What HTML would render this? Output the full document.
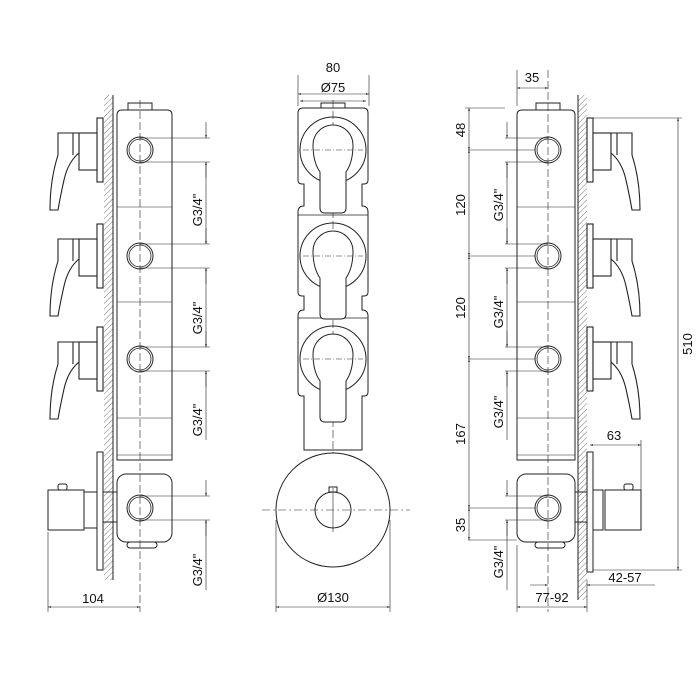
<!DOCTYPE html>
<html><head><meta charset="utf-8"><style>
html,body{margin:0;padding:0;background:#fff}
svg{display:block}
text{font-family:"Liberation Sans",sans-serif;font-size:13px;fill:#111}
</style></head><body>
<svg width="700" height="700" viewBox="0 0 700 700" xmlns="http://www.w3.org/2000/svg">
<defs>
<pattern id="h" width="4" height="4" patternUnits="userSpaceOnUse" patternTransform="rotate(45)">
<line x1="0" y1="0" x2="0" y2="4" stroke="#555" stroke-width="0.8"/>
</pattern>
<marker id="a" viewBox="0 0 10 10" refX="10" refY="5" markerWidth="7" markerHeight="5" orient="auto-start-reverse"><path d="M0,2 L10,5 L0,8 z" fill="#222"/></marker>
<g id="handle" fill="#fff" stroke="#222" stroke-width="1.1">
<rect x="97" y="-32" width="6" height="64"/>
<rect x="79" y="-17" width="18" height="37"/>
<path d="M58,-17 L79,-17 L79,3 Q68,12 64,30 Q60,48 58,60 L50,60 Q50,30 58,5 Z"/>
<line x1="73" y1="-17" x2="73" y2="5"/>
</g>
<g id="port" fill="none" stroke="#222">
<circle r="13"/><circle r="11" stroke-width="0.8"/>
</g>
<g id="mod" fill="none" stroke="#222" stroke-width="1">
<circle r="33"/>
<path d="M-13,58 L-13,22 Q-20,12 -20,-5 A20,20 0 0 1 20,-5 Q20,12 13,22 L13,58 Q13,63 8,63 L-8,63 Q-13,63 -13,58 Z" fill="#fff"/>
<line x1="-30" y1="0" x2="30" y2="0" stroke-dasharray="6,2,1,2" stroke-width="0.6"/>
</g>
</defs>
<g stroke="#222" fill="none" stroke-width="1">
<!-- LEFT VIEW -->
<rect x="104" y="95" width="9" height="485" fill="url(#h)" stroke="none"/>
<line x1="113" y1="95" x2="113" y2="580"/>
<rect x="128" y="103" width="24" height="7" fill="#fff"/>
<path d="M117,115 Q117,110 122,110 L167,110 Q172,110 172,115 L172,460 L117,460 Z" fill="#fff"/>
<line x1="117" y1="207" x2="172" y2="207" stroke-width="0.6"/>
<line x1="117" y1="302" x2="172" y2="302" stroke-width="0.6"/>
<line x1="117" y1="418" x2="172" y2="418" stroke-width="0.6"/>
<line x1="117" y1="455" x2="172" y2="455" stroke-width="0.6"/>
<rect x="117" y="474" width="55" height="68" rx="9" fill="#fff"/>
<rect x="127" y="542" width="30" height="6" rx="3"/>
<line x1="140" y1="100" x2="140" y2="612" stroke-dasharray="8,3" stroke-width="0.6"/>
<use href="#handle" y="150"/><use href="#handle" y="256"/><use href="#handle" y="359"/>
<rect x="97" y="452" width="6" height="118" fill="#fff"/>
<rect x="103" y="492" width="14" height="30"/>
<rect x="48" y="490" width="36" height="40" fill="#fff"/>
<line x1="84" y1="490" x2="84" y2="530"/>
<rect x="84" y="492" width="13" height="36"/>
<rect x="58" y="484" width="9" height="6" rx="2"/>
<use href="#port" x="140" y="150"/><use href="#port" x="140" y="256"/><use href="#port" x="140" y="359"/><use href="#port" x="140" y="508"/>
<g stroke-width="0.6">
<line x1="140" y1="138" x2="210" y2="138"/><line x1="140" y1="162" x2="210" y2="162"/>
<line x1="140" y1="244" x2="210" y2="244"/><line x1="140" y1="268" x2="210" y2="268"/>
<line x1="140" y1="347" x2="210" y2="347"/><line x1="140" y1="371" x2="210" y2="371"/>
<line x1="140" y1="496" x2="210" y2="496"/><line x1="140" y1="520" x2="210" y2="520"/>
<line x1="206" y1="122" x2="206" y2="138" marker-end="url(#a)"/><line x1="206" y1="178" x2="206" y2="162" marker-end="url(#a)"/>
<line x1="206" y1="162" x2="206" y2="244"/>
<line x1="206" y1="228" x2="206" y2="244" marker-end="url(#a)"/><line x1="206" y1="284" x2="206" y2="268" marker-end="url(#a)"/>
<line x1="206" y1="268" x2="206" y2="347"/>
<line x1="206" y1="331" x2="206" y2="347" marker-end="url(#a)"/><line x1="206" y1="387" x2="206" y2="371" marker-end="url(#a)"/>
<line x1="206" y1="371" x2="206" y2="440"/>
<line x1="206" y1="480" x2="206" y2="496" marker-end="url(#a)"/><line x1="206" y1="536" x2="206" y2="520" marker-end="url(#a)"/>
<line x1="206" y1="520" x2="206" y2="590"/>
<line x1="48" y1="532" x2="48" y2="612"/>
<line x1="48" y1="607" x2="140" y2="607" marker-start="url(#a)" marker-end="url(#a)"/>
</g>
<!-- MIDDLE VIEW -->
<path d="M298,113 Q298,108 303,108 L363,108 Q368,108 368,113 L368,180 Q368,184 364,184 L362,184 L362,206 Q368,206 368,212 L368,292 Q368,296 364,296 L362,296 L362,310 Q368,310 368,316 L368,392 Q368,396 364,396 L362,396 L362,450 L304,450 L304,396 L302,396 Q298,396 298,392 L298,316 Q298,310 304,310 L304,296 L302,296 Q298,296 298,292 L298,212 Q298,206 304,206 L304,184 L302,184 Q298,184 298,180 Z" fill="#fff"/>
<line x1="298" y1="215" x2="368" y2="215" stroke-width="0.8"/>
<line x1="298" y1="318" x2="368" y2="318" stroke-width="0.8"/>
<rect x="321" y="103" width="24" height="5" fill="#fff"/>
<line x1="333" y1="100" x2="333" y2="560" stroke-dasharray="8,3" stroke-width="0.6"/>
<use href="#mod" x="333" y="150"/><use href="#mod" x="333" y="256"/><use href="#mod" x="333" y="359"/>
<circle cx="333" cy="510" r="57" fill="#fff"/>
<circle cx="333" cy="510" r="18"/>
<rect x="329" y="487" width="8" height="5"/>
<line x1="262" y1="510" x2="410" y2="510" stroke-dasharray="8,3,2,3" stroke-width="0.6"/>
<line x1="333" y1="488" x2="333" y2="532" stroke-width="0.6"/>
<g stroke-width="0.6">
<line x1="298" y1="75" x2="298" y2="106"/><line x1="369" y1="75" x2="369" y2="106"/>
<line x1="298" y1="94" x2="369" y2="94" marker-start="url(#a)" marker-end="url(#a)"/>
<line x1="300" y1="101" x2="366" y2="101" marker-start="url(#a)" marker-end="url(#a)"/>
<line x1="276" y1="520" x2="276" y2="612"/><line x1="390" y1="520" x2="390" y2="612"/>
<line x1="276" y1="607" x2="390" y2="607" marker-start="url(#a)" marker-end="url(#a)"/>
</g>
<!-- RIGHT VIEW -->
<rect x="578" y="95" width="9" height="505" fill="url(#h)" stroke="none"/>
<line x1="578" y1="95" x2="578" y2="600"/>
<rect x="536" y="103" width="24" height="7" fill="#fff"/>
<path d="M517,115 Q517,110 522,110 L570,110 Q575,110 575,115 L575,460 L517,460 Z" fill="#fff"/>
<line x1="517" y1="207" x2="575" y2="207" stroke-width="0.6"/>
<line x1="517" y1="302" x2="575" y2="302" stroke-width="0.6"/>
<line x1="517" y1="418" x2="575" y2="418" stroke-width="0.6"/>
<line x1="517" y1="455" x2="575" y2="455" stroke-width="0.6"/>
<rect x="517" y="474" width="58" height="68" rx="9" fill="#fff"/>
<rect x="535" y="542" width="30" height="6" rx="3"/>
<line x1="548" y1="70" x2="548" y2="612" stroke-dasharray="8,3" stroke-width="0.6"/>
<g transform="translate(690,0) scale(-1,1)"><use href="#handle" y="150"/><use href="#handle" y="256"/><use href="#handle" y="359"/></g>
<rect x="587" y="452" width="6" height="120" fill="#fff"/>
<rect x="575" y="492" width="12" height="30"/>
<rect x="593" y="490" width="10" height="40"/>
<rect x="605" y="490" width="36" height="40" fill="#fff"/>
<line x1="605" y1="490" x2="605" y2="530"/>
<rect x="624" y="484" width="9" height="6" rx="2"/>
<use href="#port" x="548" y="150"/><use href="#port" x="548" y="256"/><use href="#port" x="548" y="359"/><use href="#port" x="548" y="508"/>
<g stroke-width="0.6">
<line x1="505" y1="138" x2="548" y2="138"/><line x1="505" y1="162" x2="548" y2="162"/>
<line x1="505" y1="244" x2="548" y2="244"/><line x1="505" y1="268" x2="548" y2="268"/>
<line x1="505" y1="347" x2="548" y2="347"/><line x1="505" y1="371" x2="548" y2="371"/>
<line x1="505" y1="496" x2="548" y2="496"/><line x1="505" y1="520" x2="548" y2="520"/>
<line x1="507" y1="122" x2="507" y2="138" marker-end="url(#a)"/><line x1="507" y1="178" x2="507" y2="162" marker-end="url(#a)"/>
<line x1="507" y1="162" x2="507" y2="244"/>
<line x1="507" y1="228" x2="507" y2="244" marker-end="url(#a)"/><line x1="507" y1="284" x2="507" y2="268" marker-end="url(#a)"/>
<line x1="507" y1="268" x2="507" y2="347"/>
<line x1="507" y1="331" x2="507" y2="347" marker-end="url(#a)"/><line x1="507" y1="387" x2="507" y2="371" marker-end="url(#a)"/>
<line x1="507" y1="371" x2="507" y2="440"/>
<line x1="507" y1="480" x2="507" y2="496" marker-end="url(#a)"/><line x1="507" y1="536" x2="507" y2="520" marker-end="url(#a)"/>
<line x1="507" y1="520" x2="507" y2="590"/>
<line x1="465" y1="108" x2="505" y2="108"/>
<line x1="468" y1="150" x2="535" y2="150"/><line x1="468" y1="256" x2="535" y2="256"/>
<line x1="468" y1="359" x2="535" y2="359"/><line x1="468" y1="508" x2="535" y2="508"/>
<line x1="468" y1="540" x2="517" y2="540"/>
<line x1="469" y1="108" x2="469" y2="150" marker-start="url(#a)" marker-end="url(#a)"/>
<line x1="469" y1="150" x2="469" y2="256" marker-start="url(#a)" marker-end="url(#a)"/>
<line x1="469" y1="256" x2="469" y2="359" marker-start="url(#a)" marker-end="url(#a)"/>
<line x1="469" y1="359" x2="469" y2="508" marker-start="url(#a)" marker-end="url(#a)"/>
<line x1="469" y1="508" x2="469" y2="540" marker-start="url(#a)" marker-end="url(#a)"/>
<line x1="517" y1="70" x2="517" y2="106"/>
<line x1="517" y1="88" x2="548" y2="88" marker-start="url(#a)" marker-end="url(#a)"/>
<line x1="593" y1="118" x2="682" y2="118"/><line x1="593" y1="570" x2="682" y2="570"/>
<line x1="678" y1="118" x2="678" y2="570" marker-start="url(#a)" marker-end="url(#a)"/>
<line x1="641" y1="440" x2="641" y2="490"/>
<line x1="590" y1="445" x2="641" y2="445" marker-start="url(#a)" marker-end="url(#a)"/>
<line x1="530" y1="585" x2="548" y2="585" marker-end="url(#a)"/>
<line x1="655" y1="585" x2="587" y2="585" marker-end="url(#a)"/>
<line x1="587" y1="580" x2="587" y2="612"/>
<line x1="517" y1="545" x2="517" y2="612"/>
<line x1="517" y1="607" x2="587" y2="607" marker-start="url(#a)" marker-end="url(#a)"/>
</g>
</g>
<text x="93" y="603" text-anchor="middle">104</text>
<text x="333" y="72" text-anchor="middle">80</text>
<text x="333" y="92" text-anchor="middle">Ø75</text>
<text x="333" y="602" text-anchor="middle">Ø130</text>
<text x="532" y="82" text-anchor="middle">35</text>
<text x="552" y="602" text-anchor="middle">77-92</text>
<text x="625" y="582" text-anchor="middle">42-57</text>
<text x="614" y="440" text-anchor="middle">63</text>
<g text-anchor="middle">
<text transform="translate(202,210) rotate(-90)">G3/4"</text>
<text transform="translate(202,318) rotate(-90)">G3/4"</text>
<text transform="translate(202,420) rotate(-90)">G3/4"</text>
<text transform="translate(202,570) rotate(-90)">G3/4"</text>
<text transform="translate(503,205) rotate(-90)">G3/4"</text>
<text transform="translate(503,312) rotate(-90)">G3/4"</text>
<text transform="translate(503,412) rotate(-90)">G3/4"</text>
<text transform="translate(503,562) rotate(-90)">G3/4"</text>
<text transform="translate(465,130) rotate(-90)">48</text>
<text transform="translate(465,205) rotate(-90)">120</text>
<text transform="translate(465,308) rotate(-90)">120</text>
<text transform="translate(465,434) rotate(-90)">167</text>
<text transform="translate(465,525) rotate(-90)">35</text>
<text transform="translate(692,344) rotate(-90)">510</text>
</g>
</svg>
</body></html>
